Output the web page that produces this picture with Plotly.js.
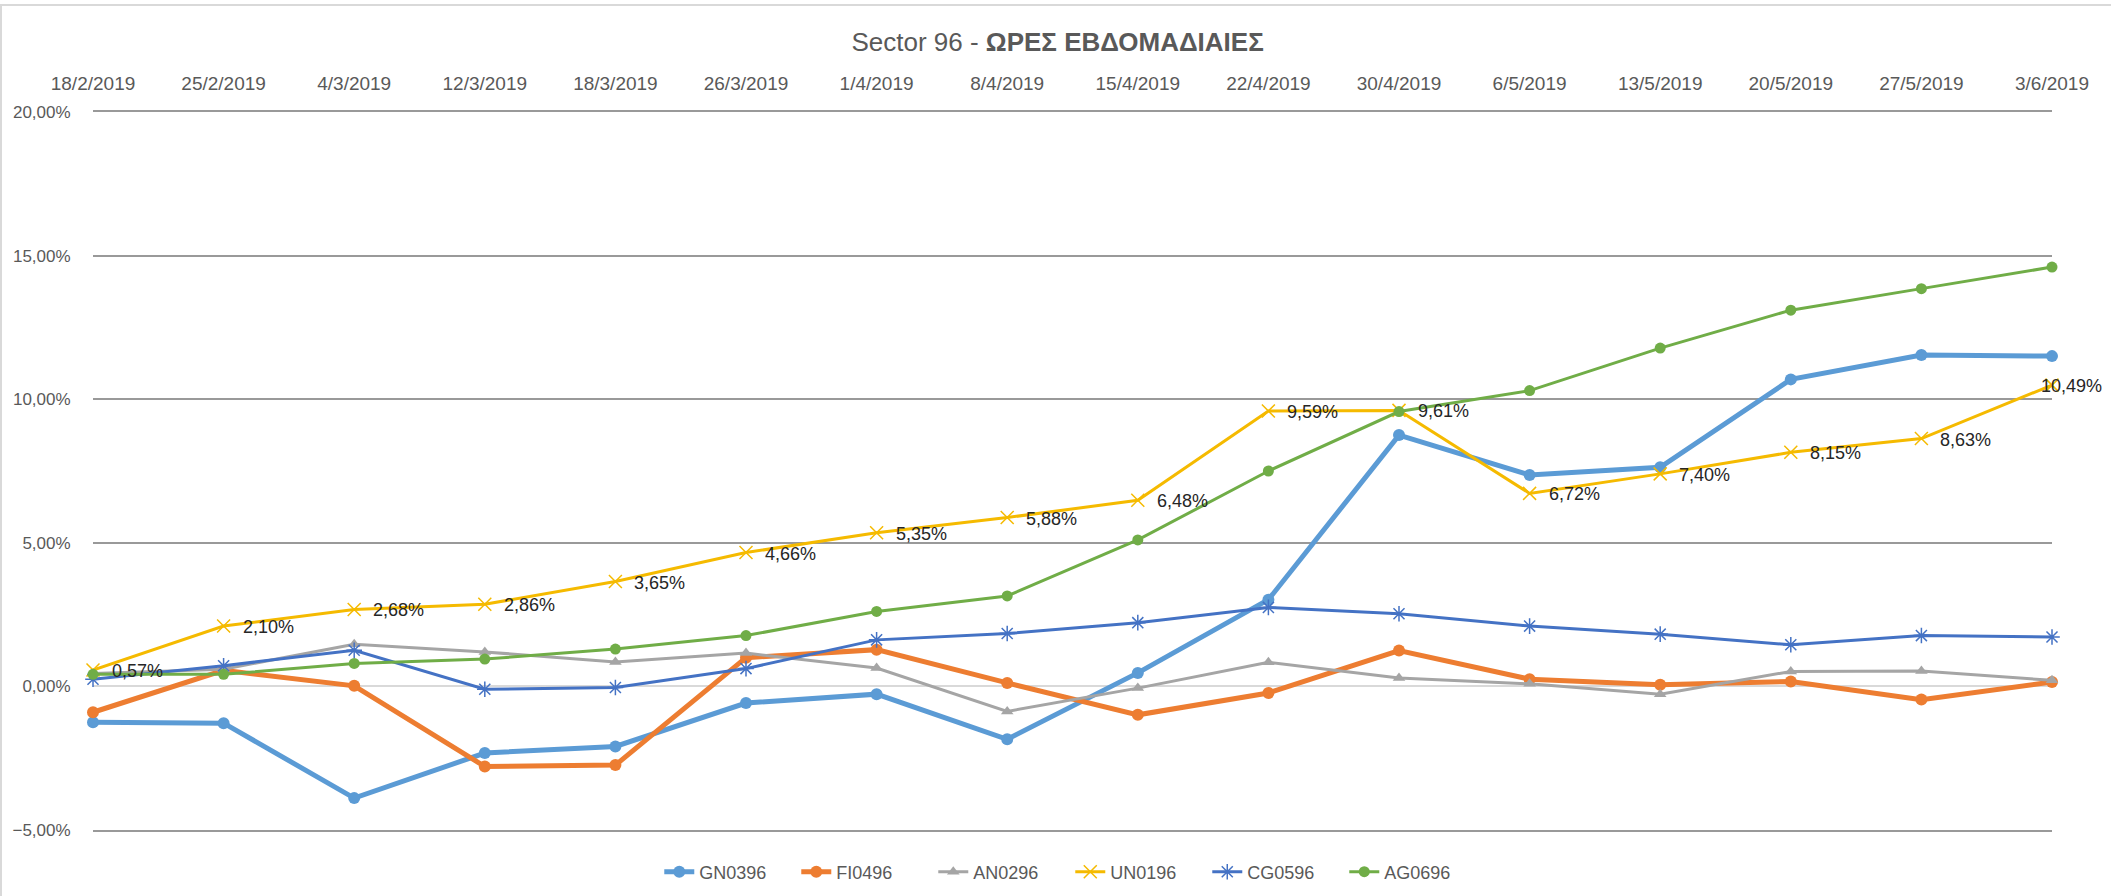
<!DOCTYPE html>
<html>
<head>
<meta charset="utf-8">
<script src="https://cdn.plot.ly/plotly-3.0.1.min.js"></script>
<style>
  html, body { margin: 0; padding: 0; background: #ffffff; }
  #wrap { position: relative; width: 2111px; height: 896px; overflow: hidden; }
  #chart { position: absolute; left: 0; top: 0; width: 2111px; height: 896px; }
  .frameTop { position: absolute; left: 0; top: 4px; width: 2111px; height: 2px; background: #d9d9d9; pointer-events: none; }
  .frameLeft { position: absolute; left: 0; top: 4px; width: 2px; height: 892px; background: #d9d9d9; pointer-events: none; }
</style>
</head>
<body>
<div id="wrap">
  <div id="chart"></div>
  <div class="frameTop"></div>
  <div class="frameLeft"></div>
</div>
<script>
// Categories (weeks)
const dates = ["18/2/2019","25/2/2019","4/3/2019","12/3/2019","18/3/2019","26/3/2019","1/4/2019","8/4/2019",
               "15/4/2019","22/4/2019","30/4/2019","6/5/2019","13/5/2019","20/5/2019","27/5/2019","3/6/2019"];

// Series values (percent)
const GN0396 = [-1.25, -1.28, -3.89, -2.32, -2.09, -0.58, -0.27, -1.84, 0.47, 3.02, 8.75, 7.36, 7.63, 10.69, 11.54, 11.50];
const FI0496 = [-0.90, 0.56, 0.02, -2.79, -2.74, 1.00, 1.28, 0.12, -0.99, -0.23, 1.25, 0.25, 0.06, 0.17, -0.46, 0.15];
const AN0296 = [0.45, 0.60, 1.47, 1.20, 0.85, 1.16, 0.64, -0.87, -0.06, 0.84, 0.29, 0.09, -0.27, 0.52, 0.54, 0.21];
const UN0196 = [0.57, 2.10, 2.68, 2.86, 3.65, 4.66, 5.35, 5.88, 6.48, 9.59, 9.61, 6.72, 7.40, 8.15, 8.63, 10.49];
const CG0596 = [0.25, 0.72, 1.26, -0.10, -0.04, 0.62, 1.62, 1.84, 2.22, 2.75, 2.53, 2.10, 1.82, 1.45, 1.77, 1.72];
const AG0696 = [0.42, 0.42, 0.80, 0.95, 1.30, 1.77, 2.61, 3.15, 5.10, 7.50, 9.57, 10.30, 11.78, 13.10, 13.85, 14.60];

const FONT = "'Liberation Sans', Arial, sans-serif";
const fmt = v => v.toFixed(2).replace('.', ',') + '%';

function series(name, y, color, lw, symbol, msize) {
  return {
    type: 'scatter', mode: 'lines+markers', name: name,
    x: dates, y: y,
    line: { color: color, width: lw },
    marker: { symbol: symbol, size: msize, color: color, line: { color: color, width: 0 } },
    cliponaxis: false,
    hoverinfo: 'x+y+name'
  };
}

const traces = [
  series('GN0396', GN0396, '#5B9BD5', 5, 'circle', 12),
  series('FI0496', FI0496, '#ED7D31', 5, 'circle', 12),
  series('AN0296', AN0296, '#A5A5A5', 3, 'triangle-up', 11),
  series('UN0196', UN0196, '#F5BA00', 3, 'x-thin-open', 13),
  series('CG0596', CG0596, '#4472C4', 3, 'asterisk-open', 13),
  series('AG0696', AG0696, '#70AD47', 3, 'circle', 11)
];
traces[3].marker.line = { color: '#F5BA00', width: 1.5 };
traces[4].marker.line = { color: '#4472C4', width: 1.5 };

// Data labels of UN0196, placed from the data through the axes
const labels = UN0196.map((v, i) => ({
  x: i, y: v, xref: 'x', yref: 'y',
  text: fmt(v), showarrow: false,
  xanchor: 'left', yanchor: 'middle',
  xshift: (i === UN0196.length - 1) ? -13 : 17, yshift: -1,
  font: { family: FONT, size: 18, color: '#262626' }
}));

const layout = {
  width: 2111, height: 896,
  paper_bgcolor: '#ffffff', plot_bgcolor: '#ffffff',
  separators: ',.',
  margin: { l: 93, r: 59, t: 112, b: 66, pad: 0 },
  font: { family: FONT, color: '#595959', size: 17 },
  title: {
    text: 'Sector 96 - <b>ΩΡΕΣ ΕΒΔΟΜΑΔΙΑΙΕΣ</b>',
    font: { family: FONT, size: 26, color: '#595959' },
    xref: 'container', x: 0.501, xanchor: 'center',
    yref: 'container', y: 1 - 42 / 896, yanchor: 'middle'
  },
  xaxis: {
    type: 'category', side: 'top',
    range: [0, dates.length - 1],
    showgrid: false, zeroline: false,
    showline: true, mirror: true, linecolor: '#999999', linewidth: 2,
    ticks: 'outside', ticklen: 12, tickcolor: 'rgba(0,0,0,0)',
    tickfont: { family: FONT, size: 19, color: '#595959' },
    fixedrange: true
  },
  yaxis: {
    range: [-5, 20], dtick: 5, tick0: 0,
    tickformat: '.2f', ticksuffix: '%',
    showgrid: true, gridcolor: '#999999', gridwidth: 2,
    zeroline: true, zerolinecolor: '#d9d9d9', zerolinewidth: 2,
    showline: false,
    ticks: 'outside', ticklen: 18, tickcolor: 'rgba(0,0,0,0)',
    tickfont: { family: FONT, size: 17, color: '#595959' },
    fixedrange: true
  },
  annotations: labels,
  showlegend: true,
  legend: {
    orientation: 'h',
    xref: 'container', x: 0.507, xanchor: 'center',
    yref: 'container', y: 1 - 872 / 896, yanchor: 'middle',
    font: { family: FONT, size: 18, color: '#595959' },
    itemwidth: 30, entrywidth: 92, entrywidthmode: 'pixels',
    bgcolor: 'rgba(0,0,0,0)'
  }
};

Plotly.newPlot('chart', traces, layout, { displayModeBar: false, staticPlot: true });
</script>
</body>
</html>
